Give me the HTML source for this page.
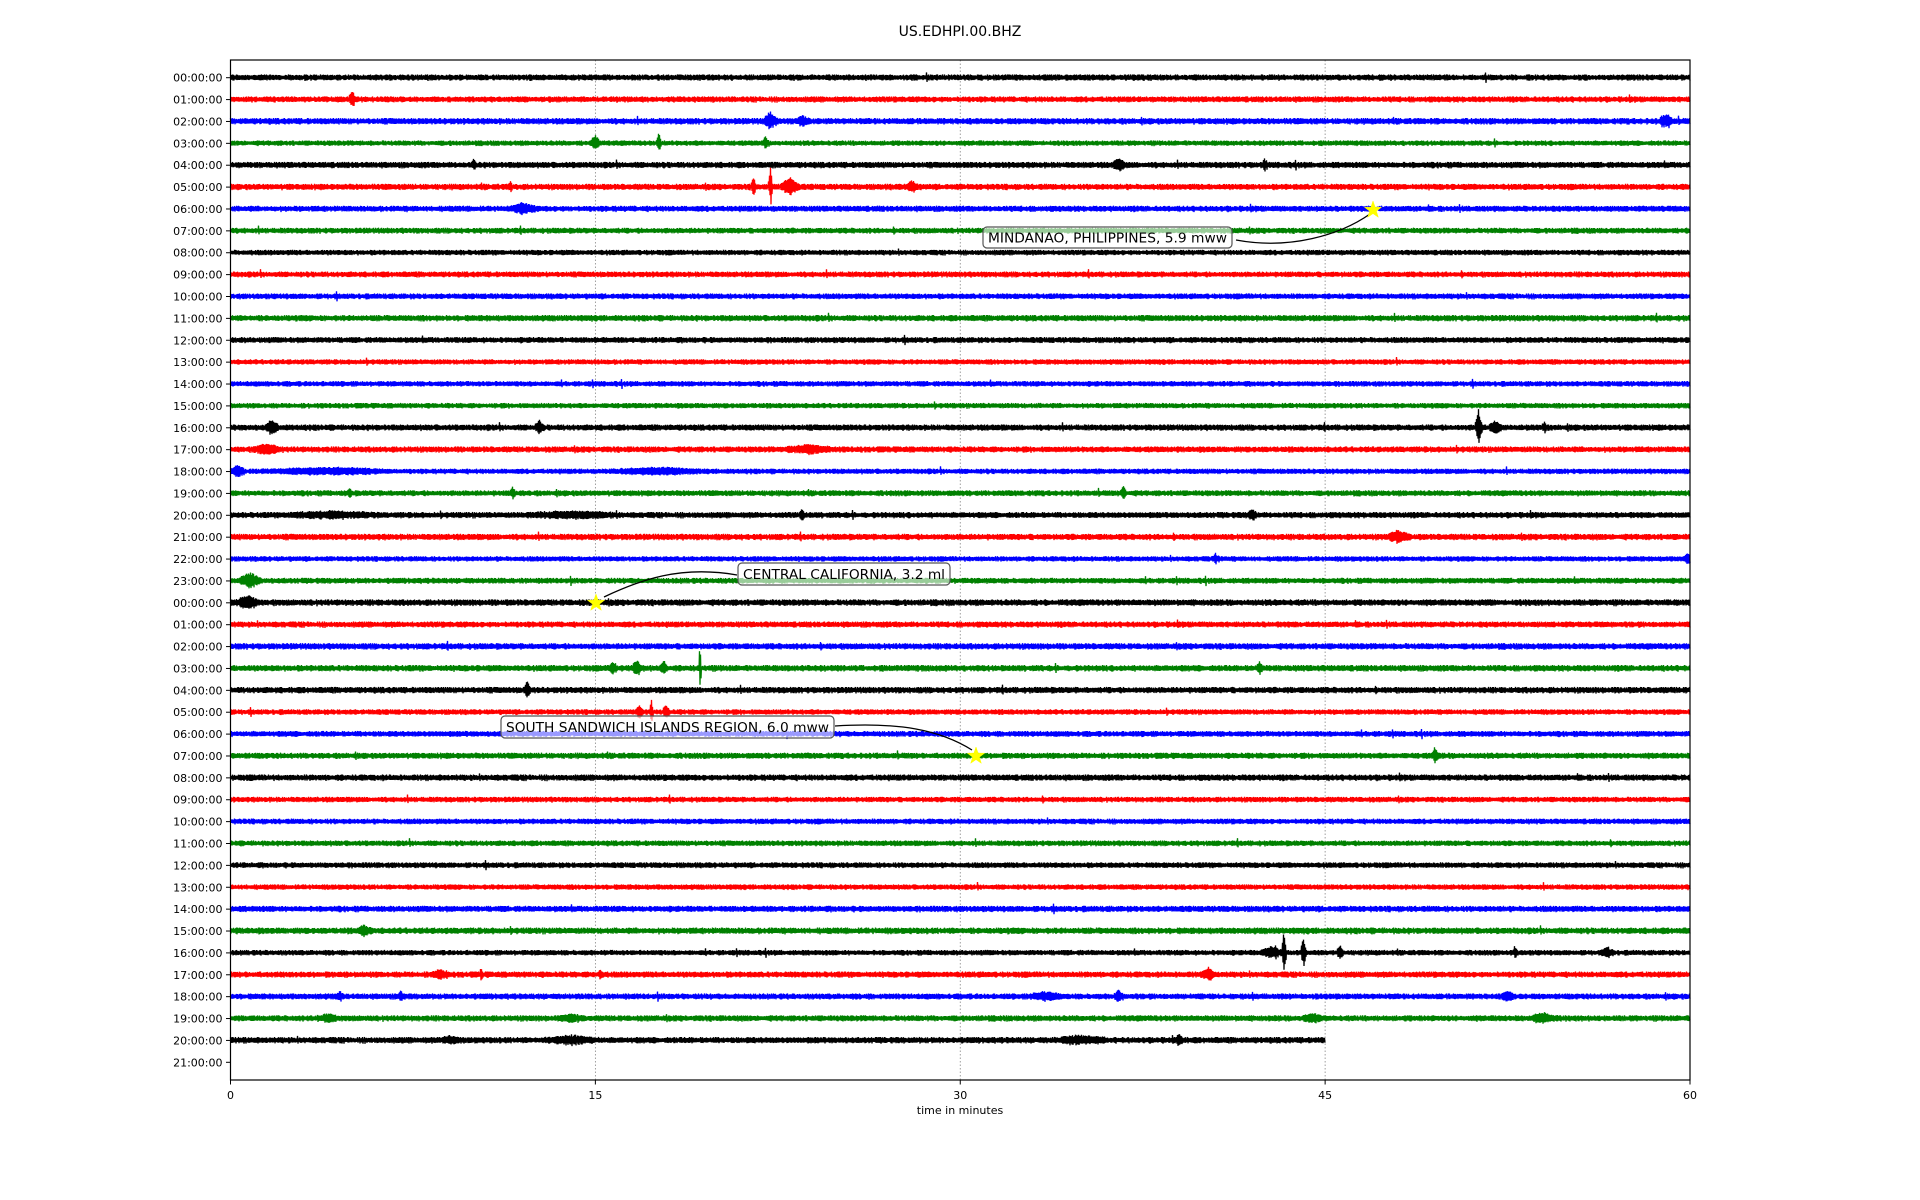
<!DOCTYPE html>
<html><head><meta charset="utf-8"><style>
html,body{margin:0;padding:0;background:#fff;width:1920px;height:1200px;overflow:hidden}
svg{display:block;font-family:"DejaVu Sans","Liberation Sans",sans-serif}
</style></head><body>
<svg id="s" width="1920" height="1200" viewBox="0 0 1920 1200" xmlns="http://www.w3.org/2000/svg">
<rect width="1920" height="1200" fill="#fff"/>
<text x="960" y="36" font-size="14" text-anchor="middle" fill="#000">US.EDHPI.00.BHZ</text>
<g id="grid" stroke="#888" stroke-width="0.8" stroke-dasharray="1.5,2"></g>
<g id="traces"></g>
<g id="axes"></g>
<g id="ann"></g>
</svg>
<script>
var NS="http://www.w3.org/2000/svg";
function el(tag,attrs,parent,text){var e=document.createElementNS(NS,tag);for(var k in attrs)e.setAttribute(k,attrs[k]);if(text!==undefined)e.textContent=text;parent.appendChild(e);return e;}
var L=230.5,R=1690,T=60,B=1080,Y0=77.7,DY=21.88;
function X(m){return L+(R-L)*m/60;}
var seed=12345;function rnd(){seed=(seed*1103515245+12345)&0x7fffffff;return seed/0x7fffffff;}
var grid=document.getElementById('grid');
[15,30,45].forEach(function(m){el('line',{x1:X(m),x2:X(m),y1:T,y2:B},grid);});
var colors=['#000','#f00','#00f','#008000'];
var ev={1:[[5,7,0.15]],2:[[22.2,8,0.3],[59,6,0.3],[23.5,4,0.3]],3:[[15,8,0.2],[17.6,9,0.1],[22,5,0.15]],4:[[10,6,0.08],[36.5,5,0.3],[42.5,5,0.08]],
5:[[22.2,22,0.08],[21.5,10,0.1],[23,9,0.4],[11.5,4,0.08],[28,4,0.3]],6:[[12,4,0.6]],16:[[51.3,18,0.15],[1.7,6,0.3],[12.7,6,0.2],[54,5,0.1],[52,6,0.3]],
17:[[1.5,4,0.6],[23.8,3,1.2]],18:[[0.3,5,0.3],[4,2.5,3],[17.5,2.5,2]],19:[[11.6,6,0.1],[36.7,5,0.15],[4.9,4,0.1]],20:[[23.5,5,0.1],[4.2,2.5,2],[14,2.5,2],[42,4,0.2]],21:[[48,5,0.5]],22:[[40.5,4,0.15],[59.9,5,0.15]],23:[[0.8,6,0.5]],24:[[0.7,6,0.5]],
27:[[16.7,7,0.2],[19.3,22,0.06],[15.7,6,0.15],[17.8,6,0.15],[42.3,5,0.15]],28:[[12.2,8,0.12]],29:[[17.3,12,0.08],[16.8,6,0.15],[17.9,6,0.15]],31:[[49.5,6,0.15]],
39:[[5.5,4,0.3]],40:[[43.3,22,0.1],[44.1,15,0.12],[45.6,6,0.15],[52.8,6,0.1],[56.6,4,0.3],[42.8,5,0.5]],41:[[10.3,6,0.06],[40.2,5,0.3],[15.2,4,0.1],[8.6,3,0.5]],
42:[[7,5,0.1],[52.5,5,0.3],[36.5,5,0.2],[33.5,3,0.8],[4.5,3,0.15]],43:[[54,4,0.6],[4,3,0.5],[14,3,0.5],[44.5,3,0.5]],44:[[14,3,1.2],[39,5,0.15],[35,3,1.2],[9,3,0.4]]};
var tr=document.getElementById('traces');
for(var r=0;r<45;r++){
  var y=Y0+r*DY, end=(r==44)?X(45):R, pts=[];
  var evs=ev[r]||[];
  var base=2.6+rnd()*0.6;
  for(var x=L;x<=end;x+=1){
    var a=base*(0.6+0.5*rnd());
    var m=(x-L)/(R-L)*60;
    for(var i=0;i<evs.length;i++){var d=Math.abs(m-evs[i][0]);var w=evs[i][2];if(d<w){a+=evs[i][1]*(1-d/w)*(0.6+0.4*rnd());}}
    if(rnd()<0.0015)a+=2.5;
    pts.push(x.toFixed(1)+','+(y-a).toFixed(1));
    pts.push((x+0.5).toFixed(1)+','+(y+a*(0.6+0.4*rnd())).toFixed(1));
  }
  el('polyline',{points:pts.join(' '),fill:'none',stroke:colors[r%4],'stroke-width':1.3},tr);
}
var ax=document.getElementById('axes');
el('rect',{x:L,y:T,width:R-L,height:B-T,fill:'none',stroke:'#000','stroke-width':1.2},ax);
for(var r=0;r<46;r++){
  var y=Y0+r*DY,h=r%24;
  el('line',{x1:L-4.5,x2:L,y1:y,y2:y,stroke:'#000','stroke-width':1},ax);
  el('text',{x:L-8,y:y+4,'font-size':11,'text-anchor':'end',fill:'#000'},ax,(h<10?'0':'')+h+':00:00');
}
[0,15,30,45,60].forEach(function(m){
  el('line',{x1:X(m),x2:X(m),y1:B,y2:B+4.5,stroke:'#000','stroke-width':1},ax);
  el('text',{x:X(m),y:B+19,'font-size':11,'text-anchor':'middle',fill:'#000'},ax,''+m);
});
el('text',{x:960,y:1114,'font-size':11,'text-anchor':'middle',fill:'#000'},ax,'time in minutes');
var an=document.getElementById('ann');
function star(cx,cy){var p=[];for(var i=0;i<10;i++){var rr=i%2?3.6:9,a=-Math.PI/2+i*Math.PI/5;p.push((cx+rr*Math.cos(a)).toFixed(1)+','+(cy+rr*Math.sin(a)).toFixed(1));}el('polygon',{points:p.join(' '),fill:'#ff0',stroke:'#ff0','stroke-width':0.5},an);}
function box(x1,y1,x2,y2,txt){el('rect',{x:x1,y:y1,width:x2-x1,height:y2-y1,rx:4,fill:'rgba(255,255,255,0.6)',stroke:'#555','stroke-width':1.2},an);el('text',{x:x1+5,y:(y1+y2)/2+5,'font-size':13.7,fill:'#000',textLength:x2-x1-10,lengthAdjust:'spacingAndGlyphs'},an,txt);}
el('path',{d:'M1236,240 C1290,250 1340,235 1370,214',fill:'none',stroke:'#000','stroke-width':1.3},an);
el('path',{d:'M737,575 C680,565 640,580 604,597',fill:'none',stroke:'#000','stroke-width':1.3},an);
el('path',{d:'M835,726 C900,722 940,730 972,750',fill:'none',stroke:'#000','stroke-width':1.3},an);
star(1373,210);star(596,603);star(976,756);
box(983,227,1232,248,'MINDANAO, PHILIPPINES, 5.9 mww');
box(738,563,950,585,'CENTRAL CALIFORNIA, 3.2 ml');
box(501,716,834,738,'SOUTH SANDWICH ISLANDS REGION, 6.0 mww');
</script>
</body></html>
